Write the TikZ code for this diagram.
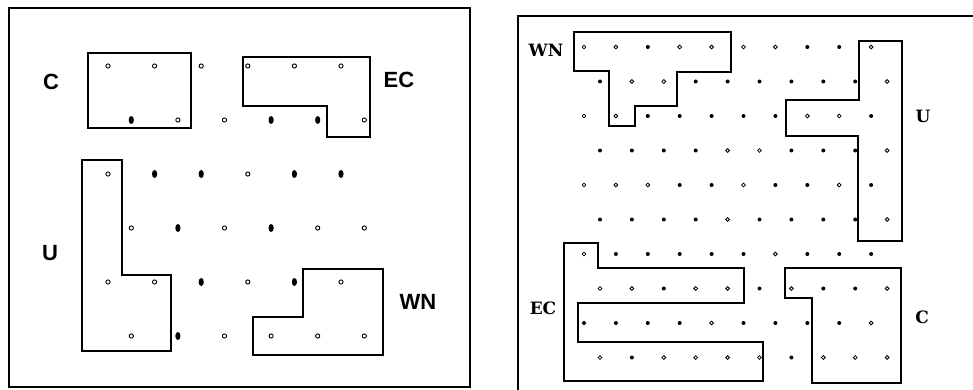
\documentclass[tikz,border=0pt]{standalone}
\usepackage{fontspec}
\newfontfamily\lblsans{Liberation Sans}
\newfontfamily\lblserif{DejaVu Serif}
\tikzset{
  frameline/.style={line width=1.2pt, line cap=rect},
  regionL/.style={line width=1.8pt, line join=miter},
  regionR/.style={line width=1.6pt, line join=miter},
  labL/.style={font=\lblsans\bfseries\fontsize{22}{22}\selectfont, inner sep=0pt, anchor=center},
  labR/.style={font=\lblserif\bfseries\fontsize{17}{17}\selectfont, inner sep=0pt, anchor=center},
  holL/.style={line width=0.9pt},
  holR/.style={line width=0.8pt},
}
\begin{document}
\begin{tikzpicture}[x=1pt, y=-1pt]
\useasboundingbox (0,0) rectangle (973,390);
\fill[white] (0,0) rectangle (973,390);

% ---------------- left panel ----------------
\draw[frameline] (9,8) rectangle (470,387);

% dots (0 = hollow, 1 = filled)
\foreach \row [count=\r from 0] in {{0,0,0,0,0,0},{1,0,0,1,1,0},{0,1,1,0,1,1},{0,1,0,1,0,0},{0,0,1,0,1,0},{0,1,0,0,0,0}}{
  \foreach \t [count=\k from 0] in \row {
    \pgfmathsetmacro\xx{108 + 23.3*mod(\r,2) + 46.6*\k}
    \pgfmathsetmacro\yy{66 + 54*\r}
    \ifnum\t=1
      \fill (\xx,\yy) ellipse [x radius=2.6pt, y radius=4pt];
    \else
      \draw[holL] (\xx,\yy) circle [radius=2.1pt];
    \fi
  }
}

% regions
\draw[regionL] (88,53) rectangle (191,128);
\draw[regionL] (243,57) -- (370,57) -- (370,137) -- (327,137) -- (327,106) -- (243,106) -- cycle;
\draw[regionL] (82,160) -- (122,160) -- (122,275) -- (171,275) -- (171,351) -- (82,351) -- cycle;
\draw[regionL] (303,269) -- (383,269) -- (383,355) -- (253,355) -- (253,317) -- (303,317) -- cycle;

\node[labL] (lC)  at (51,82)   {C};
\node[labL] (lEC) at (399,80)  {EC};
\node[labL] (lU)  at (50,253)  {U};
\node[labL] (lWN) at (418,302) {WN};

% ---------------- right panel ----------------
\draw[frameline] (518,392) -- (518,16) -- (975,16);

\foreach \row [count=\r from 0] in {
  {0,0,1,0,0,0,0,1,1,0},
  {1,0,0,1,1,1,1,1,1,0},
  {0,0,1,1,1,1,1,0,0,1},
  {1,1,1,1,0,0,1,1,1,0},
  {0,0,0,1,1,0,1,1,0,1},
  {1,1,1,1,0,1,1,1,1,0},
  {0,1,1,1,1,1,0,1,1,1},
  {0,0,1,0,0,1,0,1,1,0},
  {1,1,1,1,0,1,1,1,1,0},
  {0,1,0,0,0,0,1,0,0,0}}{
  \foreach \t [count=\k from 0] in \row {
    \pgfmathsetmacro\xx{584 + 16*mod(\r,2) + 31.9*\k}
    \pgfmathsetmacro\yy{47 + 34.5*\r}
    \ifnum\t=1
      \fill (\xx,\yy) circle [radius=2pt];
    \else
      \draw[holR] (\xx,\yy) circle [radius=1.9pt];
    \fi
  }
}

% regions
\draw[regionR] (574,32) -- (731,32) -- (731,72) -- (677,72) -- (677,106) -- (635,106) -- (635,126) -- (609,126) -- (609,71) -- (574,71) -- cycle;
\draw[regionR] (859,41) -- (902,41) -- (902,241) -- (858,241) -- (858,136) -- (786,136) -- (786,100) -- (859,100) -- cycle;
\draw[regionR] (564,243) -- (598,243) -- (598,268) -- (744,268) -- (744,303) -- (578,303) -- (578,342) -- (763,342) -- (763,381) -- (564,381) -- cycle;
\draw[regionR] (785,268) -- (901,268) -- (901,383) -- (812,383) -- (812,298) -- (785,298) -- cycle;

\node[labR] (rWN) at (546,50)  {WN};
\node[labR] (rU)  at (923,116) {U};
\node[labR] (rEC) at (543,308) {EC};
\node[labR] (rC)  at (922,317) {C};
\end{tikzpicture}
\end{document}
